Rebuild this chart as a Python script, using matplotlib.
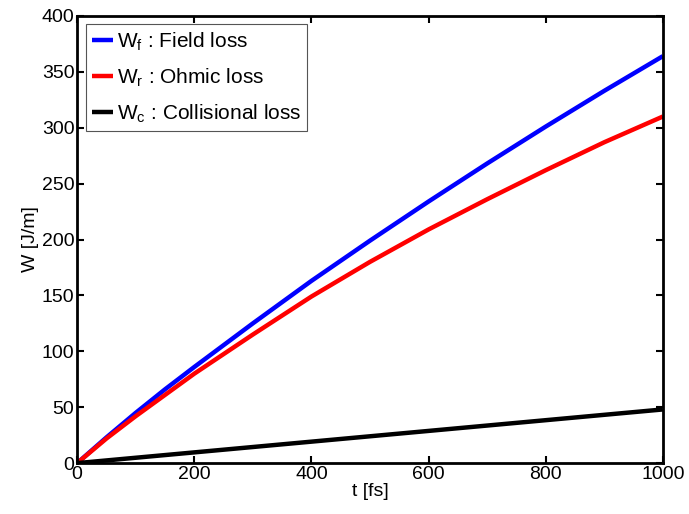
import matplotlib
matplotlib.use("Agg")
import matplotlib.pyplot as plt

plt.rcParams["font.family"] = ["Liberation Sans", "DejaVu Sans"]
plt.rcParams["mathtext.fontset"] = "custom"
plt.rcParams["mathtext.rm"] = "Liberation Sans"
plt.rcParams["mathtext.it"] = "Liberation Sans"

# data
t_fs = [0, 50, 100, 150, 200, 300, 400, 500, 600, 700, 800, 900, 1000]
w_field = [0, 23, 45, 66, 86, 125, 163, 199, 234, 268, 301, 333, 364]
w_ohmic = [0, 22, 42, 61, 80, 115, 149, 180, 209, 236, 262, 287, 310]
w_coll = [0, 2.4, 4.8, 7.2, 9.6, 14.4, 19.2, 24, 28.8, 33.6, 38.4, 43.2, 48]

labels = [r"W$_\mathrm{f}$ : Field loss",
          r"W$_\mathrm{r}$ : Ohmic loss",
          r"W$_\mathrm{c}$ : Collisional loss"]
colors = ["#0000ff", "#ff0000", "#000000"]

fig = plt.figure(figsize=(6.89, 5.14), dpi=100)
ax = fig.add_axes([0.112, 0.099, 0.850, 0.870])

for ys, lab, c in zip([w_field, w_ohmic, w_coll], labels, colors):
    ax.plot(t_fs, ys, color=c, linewidth=3.2, label=lab, solid_capstyle="butt")

ax.set_xlim(0, 1000)
ax.set_ylim(0, 400)
ax.set_xticks([0, 200, 400, 600, 800, 1000])
ax.set_yticks(range(0, 401, 50))
ax.tick_params(direction="in", top=True, right=True, labelsize=14,
               length=5, width=1.5, pad=2)
for s in ax.spines.values():
    s.set_linewidth(2)
ax.set_xlabel("t [fs]", fontsize=14, labelpad=0)
ax.set_ylabel("W [J/m]", fontsize=14, labelpad=2)

leg = ax.legend(loc="upper left", fontsize=15, fancybox=False,
                edgecolor="#555555", framealpha=1, handlelength=1.0,
                handletextpad=0.2, borderpad=0.3, labelspacing=0.65,
                borderaxespad=0.4)
leg.get_frame().set_linewidth(0.8)

fig.savefig("out.png", dpi=100)
